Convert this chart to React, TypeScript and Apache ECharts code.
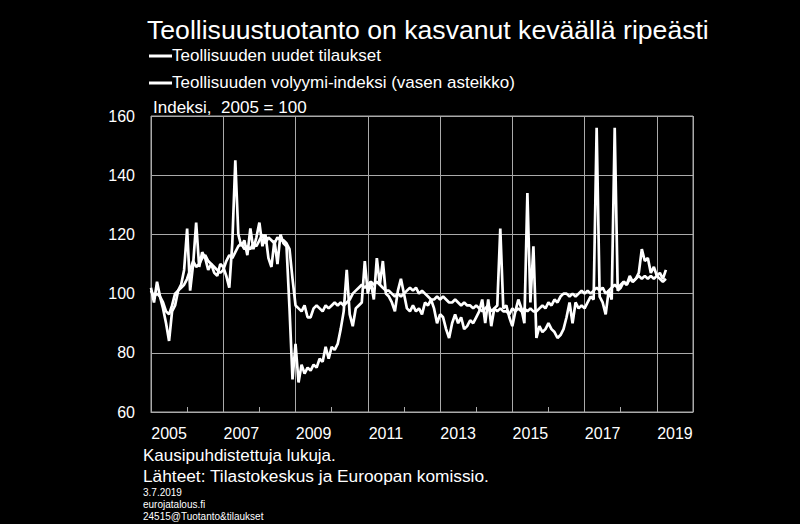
import React, { useEffect, useRef } from "react";
import * as echarts from "echarts";

const yearLabels = ["2005","2006","2007","2008","2009","2010","2011","2012","2013","2014","2015","2016","2017","2018","2019"];

// Monthly values from Jan 2005 to Apr 2019
const ordersValues = [
  102, 97, 104, 99, 95, 90, 84, 94, 96, 101, 103, 108,
  122, 101, 110, 124, 109, 114, 112, 108, 110, 107, 106, 110,
  109, 106, 102, 117, 145, 120, 116, 118, 113, 122, 115, 119,
  124, 116, 120, 112, 109, 118, 110, 120, 117, 116, 95, 71,
  83, 70, 76, 73, 75, 74, 76, 75, 78, 77, 82, 78,
  82, 81, 83, 88, 94, 108, 93, 89, 95, 96, 97, 111,
  100, 104, 98, 112, 103, 111, 100, 99, 97, 94, 101, 105,
  100, 95, 94, 96, 94, 95, 93, 97, 96, 98, 95, 90,
  93, 92, 88, 85, 90, 93, 90, 92, 88, 89, 91, 90,
  92, 94, 98, 90, 98, 89, 95, 96, 122, 95, 96, 92,
  89, 94, 98, 95, 90, 134, 97, 116, 85, 89, 87, 88,
  90, 88, 87, 85, 86, 88, 92, 97, 90, 97, 95, 96,
  95, 97, 99, 98, 156, 99, 97, 93, 101, 98, 156, 101,
  102, 104, 103, 106, 104, 105, 107, 115, 111, 112, 107, 109,
  106, 107, 105, 108,
];

const volumeValues = [
  101, 99, 100, 99, 97, 94, 93, 96, 100, 101, 102, 103,
  105, 108, 111, 109, 110, 112, 113, 111, 110, 109, 108, 107,
  108, 111, 113, 112, 114, 116, 117, 115, 116, 115, 117, 116,
  118, 120, 117, 119, 118, 117, 119, 118, 118, 117, 115, 105,
  96, 95, 94, 96, 92, 92, 95, 96, 95, 94, 96, 95,
  96, 97, 96, 97, 96, 97, 98, 100, 101, 102, 103, 102,
  103, 104, 103, 104, 103, 102, 101, 101, 100, 99, 100, 99,
  100, 101, 102, 101, 102, 100, 101, 100, 99, 98, 98, 99,
  98, 99, 98, 97, 97, 98, 97, 96, 97, 96, 96, 95,
  96, 95, 94, 95, 96, 94, 95, 94, 95, 94, 94, 93,
  95, 94, 95, 94, 95, 94, 95, 94, 94, 95, 96, 95,
  97, 96, 98, 97, 99, 100, 100, 99, 100, 99, 100, 101,
  100, 101, 100, 101, 102, 101, 102, 100, 101, 102, 103, 102,
  103, 104, 103, 105, 104, 105, 106, 105, 106, 105, 106, 105,
  106, 105, 104, 105,
];

const monthsOnAxis = 180; // Jan 2005 .. Dec 2019
const yMin = 60;
const yMax = 160;
const yStep = 20;

const titleText = "Teollisuustuotanto on kasvanut keväällä ripeästi";
const legendOrders = "Teollisuuden uudet tilaukset";
const legendVolume = "Teollisuuden volyymi-indeksi (vasen asteikko)";
const unitText = "Indeksi,  2005 = 100";
const footer1 = "Kausipuhdistettuja lukuja.";
const footer2 = "Lähteet: Tilastokeskus ja Euroopan komissio.";
const small1 = "3.7.2019";
const small2 = "eurojatalous.fi";
const small3 = "24515@Tuotanto&tilaukset";

const FONT = "'Liberation Sans', Arial, sans-serif";
const GRID = "#aaaaaa";

export default function App() {
  const ref = useRef<HTMLDivElement>(null);
  useEffect(() => {
    document.body.style.margin = "0";
    document.body.style.background = "#000";
    const chart = echarts.init(ref.current!, null, { renderer: "svg" });
    const toPairs = (vals: number[]) => vals.map((v, i) => [i, v]);
    const txt = (text: string, x: number, y: number, size: number) => ({
      type: "text",
      x,
      y,
      style: { text, fill: "#fff", font: `${size}px ${FONT}`, textVerticalAlign: "middle", verticalAlign: "middle" },
    });
    chart.setOption({
      animation: false,
      backgroundColor: "#000",
      grid: {
        left: 151,
        top: 116,
        width: 542,
        height: 296,
        show: true,
        borderColor: GRID,
        borderWidth: 1,
        backgroundColor: "#000",
      },
      xAxis: [
        {
          type: "category",
          data: yearLabels,
          boundaryGap: true,
          axisLine: { show: true, lineStyle: { color: GRID, width: 1 } },
          axisTick: { show: true, interval: 0, inside: true, length: 5, lineStyle: { color: GRID } },
          axisLabel: { interval: 1, color: "#fff", fontSize: 16, fontFamily: FONT, margin: 13 },
          splitLine: { show: true, interval: 1, lineStyle: { color: GRID, width: 1 } },
        },
        {
          type: "value",
          min: 0,
          max: monthsOnAxis,
          show: false,
          splitLine: { show: false },
        },
      ],
      yAxis: {
        type: "value",
        min: yMin,
        max: yMax,
        interval: yStep,
        axisLine: { show: false },
        axisTick: { show: false },
        axisLabel: { color: "#fff", fontSize: 16, fontFamily: FONT, margin: 16 },
        splitLine: { show: true, lineStyle: { color: GRID, width: 1 } },
      },
      series: [
        {
          name: legendVolume,
          type: "line",
          xAxisIndex: 1,
          data: toPairs(volumeValues),
          showSymbol: false,
          lineStyle: { color: "#fff", width: 2.7 },
        },
        {
          name: legendOrders,
          type: "line",
          xAxisIndex: 1,
          data: toPairs(ordersValues),
          showSymbol: false,
          lineStyle: { color: "#fff", width: 2.7 },
        },
      ],
      graphic: [
        txt(titleText, 147, 30, 26.6),
        { type: "line", shape: { x1: 149, y1: 56, x2: 172, y2: 56 }, style: { stroke: "#fff", lineWidth: 3 } },
        txt(legendOrders, 172, 55, 17),
        { type: "line", shape: { x1: 149, y1: 83, x2: 172, y2: 83 }, style: { stroke: "#fff", lineWidth: 3 } },
        txt(legendVolume, 172, 82, 17),
        txt(unitText, 153, 107, 17),
        txt(footer1, 143, 455, 17),
        txt(footer2, 143, 476, 17.3),
        txt(small1, 143, 492, 10),
        txt(small2, 143, 504, 10),
        txt(small3, 143, 516, 10),
      ],
    });
    return () => chart.dispose();
  }, []);
  return <div ref={ref} style={{ width: 800, height: 524 }} />;
}
